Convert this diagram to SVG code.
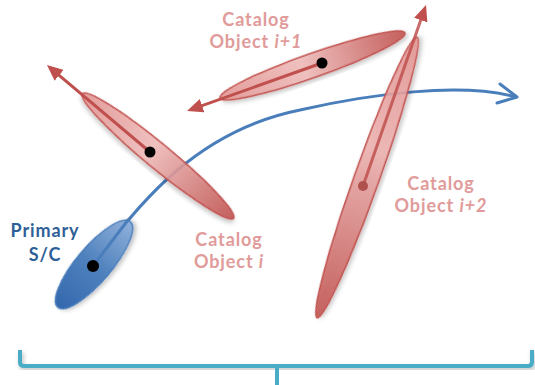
<svg xmlns="http://www.w3.org/2000/svg" width="535" height="385" viewBox="0 0 535 385">
<style>
.red-lbl{font-family:Lato,"Open Sans","Liberation Sans",sans-serif;font-weight:700;font-size:18px;letter-spacing:0.9px;fill:#e09b9a;text-anchor:middle}
.blue-lbl{font-family:Lato,"Open Sans","Liberation Sans",sans-serif;font-weight:700;font-size:18px;letter-spacing:0.9px;fill:#2f5f98;text-anchor:middle}
.red-ell{stroke:#c0504d;stroke-width:1.5;fill-opacity:0.88}
.vec{stroke:#c0504d;stroke-width:3;fill:none;marker-end:url(#rhead)}
.dot{fill:#000}
.traj{stroke:#4a7ebb;stroke-width:3;fill:none;stroke-linecap:round;stroke-linejoin:round}
.brk{stroke:#4bacc6;stroke-width:4;fill:none;stroke-linejoin:round}
</style>
<defs>
<linearGradient id="gRed" x1="0" y1="0" x2="1" y2="0">
<stop offset="0" stop-color="#e39491"/>
<stop offset="0.45" stop-color="#f0bcba"/>
<stop offset="1" stop-color="#c0504d"/>
</linearGradient>
<linearGradient id="gRedRev" x1="1" y1="0" x2="0" y2="0">
<stop offset="0" stop-color="#e39491"/>
<stop offset="0.4" stop-color="#edb2b0"/>
<stop offset="1" stop-color="#c0504d"/>
</linearGradient>
<linearGradient id="gBlue" x1="1" y1="0" x2="0" y2="0">
<stop offset="0" stop-color="#8fb0da"/>
<stop offset="0.5" stop-color="#4f81bd"/>
<stop offset="1" stop-color="#3468ae"/>
</linearGradient>
<filter id="sh" x="-20%" y="-20%" width="140%" height="140%">
<feDropShadow dx="1.5" dy="2.5" stdDeviation="2" flood-color="#000" flood-opacity="0.25"/>
</filter>
<marker id="rhead" viewBox="0 0 16 14" refX="12" refY="7" markerWidth="16" markerHeight="14" markerUnits="userSpaceOnUse" orient="auto">
<path d="M0,0 L16,7 L0,14 Z" fill="#c0504d"/>
</marker>
</defs>

<g id="connectors">
<path id="trajectory" class="traj" d="M93,266 C140,200 200,130 300,110 C370,94 460,82 516,97"/>
<polyline class="traj" points="500,84 517,97 497,103"/>
</g>

<g id="obj-i">
<ellipse class="red-ell" filter="url(#sh)" fill="url(#gRed)" cx="0" cy="0" rx="98" ry="12.5" transform="translate(158,156) rotate(39.5)"/>
<line class="vec" x1="150" y1="152" x2="50" y2="67.6"/>
<circle class="dot" cx="150" cy="152" r="5.5"/>
<text class="red-lbl" x="229" y="246">Catalog</text>
<text class="red-lbl" x="229" y="268">Object <tspan font-style="italic">i</tspan></text>
</g>

<g id="obj-i1">
<ellipse class="red-ell" filter="url(#sh)" fill="url(#gRed)" cx="0" cy="0" rx="98" ry="12" transform="translate(312.5,65.5) rotate(-19.4)"/>
<line class="vec" x1="322" y1="63" x2="190.8" y2="109.7"/>
<circle class="dot" cx="322" cy="63" r="5.5"/>
<text class="red-lbl" x="256" y="26">Catalog</text>
<text class="red-lbl" x="256" y="48">Object <tspan font-style="italic">i+1</tspan></text>
</g>

<g id="obj-i2">
<ellipse class="red-ell" filter="url(#sh)" fill="url(#gRedRev)" cx="0" cy="0" rx="149" ry="12.5" transform="translate(367,177.5) rotate(-70.4)"/>
<line class="vec" x1="363" y1="186" x2="424.7" y2="8.8" stroke-opacity="0.85"/>
<circle cx="363" cy="186" r="5" fill="#b0504d"/>
<text class="red-lbl" x="441" y="190">Catalog</text>
<text class="red-lbl" x="441" y="212">Object <tspan font-style="italic">i+2</tspan></text>
</g>

<g id="primary">
<ellipse filter="url(#sh)" fill="url(#gBlue)" stroke="#4a7ebb" stroke-width="1.5" cx="0" cy="0" rx="56" ry="17.5" transform="translate(94,264.5) rotate(-49.7)"/>
<path class="traj" d="M93,266 L128,220"/>
<circle class="dot" cx="93" cy="266" r="6"/>
<text class="blue-lbl" x="45" y="237">Primary</text>
<text class="blue-lbl" x="45" y="261">S/C</text>
</g>

<g id="bracket">
<path class="brk" filter="url(#sh)" d="M20,350 V362 Q20,366 24,366 H528 Q532,366 532,362 V350"/>
<path class="brk" d="M277,366 V385"/>
</g>
</svg>
